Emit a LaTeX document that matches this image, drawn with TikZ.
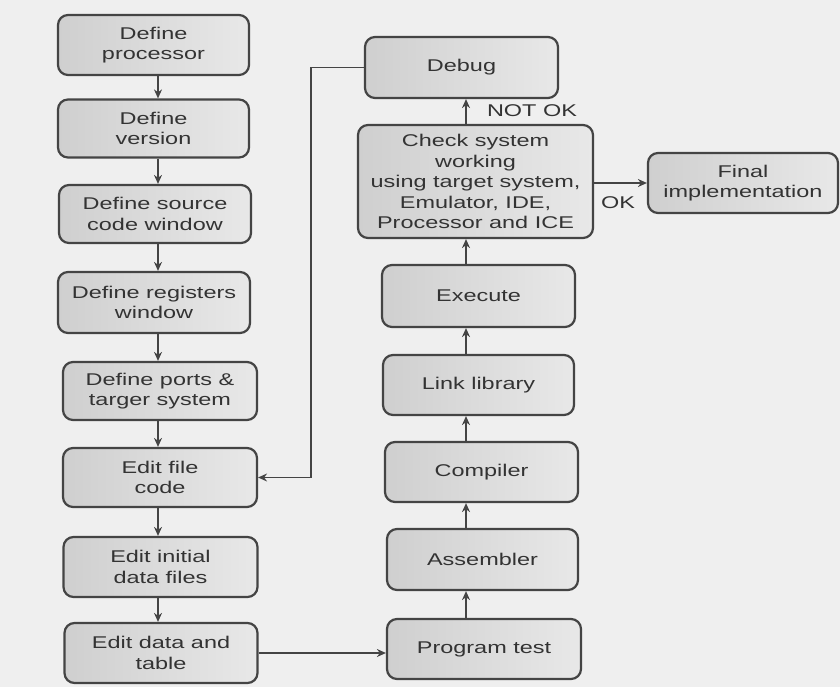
\documentclass[tikz,border=0pt]{standalone}
\usepackage{fontspec}
\setmainfont[FakeStretch=1.38]{Liberation Sans}
\usetikzlibrary{arrows.meta}
\definecolor{bg}{HTML}{EFEFEF}
\definecolor{edge}{HTML}{444444}
\definecolor{ink}{HTML}{333333}
\definecolor{fillL}{HTML}{CFCFCF}
\definecolor{fillR}{HTML}{E8E8E8}
\begin{document}
\begin{tikzpicture}[x=1pt,y=-1pt,
  box/.style={draw=edge, line width=2.2pt, rounded corners=10pt,
    left color=fillL, right color=fillR, text=ink, align=center,
    inner sep=0pt, font=\fontsize{17}{20.5}\selectfont},
  arr/.style={draw=edge, line width=1.8pt, -{Stealth[length=9pt,width=8pt]}},
  lbl/.style={text=ink, inner sep=0pt, font=\fontsize{17}{20.5}\selectfont}]
\fill[bg] (0,0) rectangle (840,687);
\useasboundingbox (0,0) rectangle (840,687);

% left column
\node[box, minimum width=191pt, minimum height=60pt] (p1) at (153.5,45) {Define\\processor};
\node[box, minimum width=191pt, minimum height=58pt] (p2) at (153.5,128.5) {Define\\version};
\node[box, minimum width=192pt, minimum height=58pt] (p3) at (155,214) {Define source\\code window};
\node[box, minimum width=192pt, minimum height=61pt] (p4) at (154,302.5) {Define registers\\window};
\node[box, minimum width=194pt, minimum height=58pt] (p5) at (160,391) {Define ports \&\\targer system};
\node[box, minimum width=194pt, minimum height=59pt] (p6) at (160,477.5) {Edit file\\code};
\node[box, minimum width=194pt, minimum height=60pt] (p7) at (160.5,567) {Edit initial\\data files};
\node[box, minimum width=193pt, minimum height=60pt] (p8) at (161,653) {Edit data and\\table};

% right column
\node[box, minimum width=193pt, minimum height=61pt] (debug) at (461.5,67.5) {Debug};
\node[box, minimum width=235pt, minimum height=113pt] (check) at (475.5,181.5)
  {Check system\\working\\using target system,\\Emulator, IDE,\\Processor and ICE};
\node[box, minimum width=190pt, minimum height=60pt] (final) at (743,183) {Final\\implementation};
\node[box, minimum width=193pt, minimum height=62pt] (exec) at (478.5,296) {Execute};
\node[box, minimum width=191pt, minimum height=60pt] (link) at (478.5,385) {Link library};
\node[box, minimum width=193pt, minimum height=60pt] (comp) at (481.5,472) {Compiler};
\node[box, minimum width=191pt, minimum height=61pt] (asm) at (482.5,559.5) {Assembler};
\node[box, minimum width=194pt, minimum height=60pt] (ptest) at (484,649) {Program test};

% guide coordinates
\coordinate (lax) at (158,0);
\coordinate (rax) at (466,0);
\coordinate (fb) at (311,0);

% left column arrows
\draw[arr] (p1.south -| lax) -- (p2.north -| lax);
\draw[arr] (p2.south -| lax) -- (p3.north -| lax);
\draw[arr] (p3.south -| lax) -- (p4.north -| lax);
\draw[arr] (p4.south -| lax) -- (p5.north -| lax);
\draw[arr] (p5.south -| lax) -- (p6.north -| lax);
\draw[arr] (p6.south -| lax) -- (p7.north -| lax);
\draw[arr] (p7.south -| lax) -- (p8.north -| lax);

% right column arrows (upwards)
\draw[arr] (ptest.north -| rax) -- (asm.south -| rax);
\draw[arr] (asm.north -| rax) -- (comp.south -| rax);
\draw[arr] (comp.north -| rax) -- (link.south -| rax);
\draw[arr] (link.north -| rax) -- (exec.south -| rax);
\draw[arr] (exec.north -| rax) -- (check.south -| rax);
\draw[arr] (check.north -| rax) -- (debug.south -| rax);

% other connectors
\draw[arr] (check.east |- final.west) -- (final.west);
\draw[arr] (p8.east) -- (p8.east -| ptest.west);
\draw[arr] (debug.west) -- (debug.west -| fb) |- (p6.east);

% labels
\node[lbl] (notok) at (532,111) {NOT OK};
\node[lbl] (ok) at (618,203) {OK};
\end{tikzpicture}
\end{document}
